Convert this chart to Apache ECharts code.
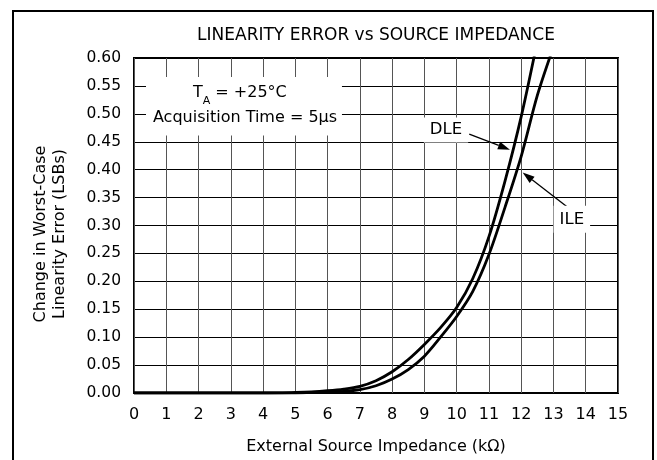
<!DOCTYPE html>
<html>
<head>
<meta charset="utf-8">
<script src="https://cdn.jsdelivr.net/npm/echarts@6/dist/echarts.min.js"></script>
<style>
  html, body { margin: 0; padding: 0; background: #fff; }
  #main { width: 657px; height: 460px; }
</style>
</head>
<body>
<div id="main"></div>
<script>
  // valeurs : [impedance kOhm, erreur LSB]
  var dleData = [[0, 0], [1, 0], [2, 0], [3, 0], [4, 0], [5, 0.001], [5.5, 0.002], [6, 0.004],
    [6.5, 0.007], [7, 0.012], [7.5, 0.022], [8, 0.038], [8.5, 0.060], [9, 0.087], [9.5, 0.117],
    [10, 0.153], [10.5, 0.205], [11, 0.28], [11.5, 0.38], [12, 0.495], [12.5, 0.63]];
  var ileData = [[0, 0], [1, 0], [2, 0], [3, 0], [4, 0], [5, 0], [5.5, 0.001], [6, 0.002],
    [6.5, 0.003], [7, 0.006], [7.5, 0.013], [8, 0.025], [8.5, 0.042], [9, 0.066], [9.5, 0.100],
    [10, 0.137], [10.5, 0.182], [11, 0.248], [11.5, 0.333], [12, 0.424], [12.5, 0.533], [13, 0.62]];
  var seriesNames = ['DLE', 'ILE'];

  var FONT = 'DejaVu Sans';

  var myChart = echarts.init(document.getElementById('main'));

  var options = {
    animation: false,
    grid: {
      left: 134, right: 39, top: 58, bottom: 66,
      show: true, borderColor: '#000', borderWidth: 2, backgroundColor: 'transparent'
    },
    xAxis: {
      type: 'value', min: 0, max: 15, interval: 1,
      axisLine: { show: false }, axisTick: { show: false },
      axisLabel: { margin: 14, fontFamily: FONT, fontSize: 16, color: '#000' },
      splitLine: { lineStyle: { color: '#555', width: 1 } },
      name: 'External Source Impedance (kΩ)', nameLocation: 'middle', nameGap: 46,
      nameTextStyle: { fontFamily: FONT, fontSize: 16, color: '#000' }
    },
    yAxis: {
      type: 'value', min: 0, max: 0.6, interval: 0.05,
      axisLine: { show: false }, axisTick: { show: false },
      axisLabel: {
        margin: 13, fontFamily: FONT, fontSize: 15.5, color: '#000',
        formatter: function (v) { return v.toFixed(2); }
      },
      splitLine: { lineStyle: { color: '#000', width: 1 } }
    },
    series: [
      {
        name: seriesNames[0], type: 'line', data: dleData, symbol: 'none',
        smooth: 0.3, clip: true,
        lineStyle: { color: '#000', width: 2.8 }
      },
      {
        name: seriesNames[1], type: 'line', data: ileData, symbol: 'none',
        smooth: 0.3, clip: true,
        lineStyle: { color: '#000', width: 2.8 }
      }
    ]
  };
  myChart.setOption(options);

  // annotations placees en coordonnees de donnees
  function px(p) { return myChart.convertToPixel({ gridIndex: 0 }, p); }

  function arrow(from, to, id) {
    var a = px(from), b = px(to);
    var dx = b[0] - a[0], dy = b[1] - a[1];
    var len = Math.sqrt(dx * dx + dy * dy);
    var ux = dx / len, uy = dy / len, L = 12, W = 4;
    var bx = b[0] - ux * L, by = b[1] - uy * L;
    return [
      { type: 'line', id: id + 'l', z: 50, shape: { x1: a[0], y1: a[1], x2: bx, y2: by },
        style: { stroke: '#000', lineWidth: 1.3 } },
      { type: 'polygon', id: id + 'h', z: 50,
        shape: { points: [[b[0], b[1]], [bx - uy * W, by + ux * W], [bx + uy * W, by - ux * W]] },
        style: { fill: '#000' } }
    ];
  }

  var boxA = px([0.372, 0.566]), boxB = px([6.445, 0.461]);
  var cond1 = px([3.28, 0.5375]), cond2 = px([3.44, 0.4929]);
  var dleTxt = px([9.67, 0.471]), ileTxt = px([13.57, 0.311]);
  var mid = px([7.5, 0.6]);

  var graphics = [
    { type: 'rect', id: 'frame', z: 60, shape: { x: 13, y: 11, width: 640, height: 470 },
      style: { fill: 'transparent', stroke: '#000', lineWidth: 2 } },
    { type: 'text', id: 'title', z: 60, x: mid[0], y: 36,
      style: { text: 'LINEARITY ERROR vs SOURCE IMPEDANCE', font: '17px "' + FONT + '"',
        fill: '#000', align: 'center', verticalAlign: 'middle' } },
    { type: 'text', id: 'yname', z: 60, x: 50, y: 234, rotation: Math.PI / 2,
      style: { text: 'Change in Worst-Case\nLinearity Error (LSBs)', font: '16px "' + FONT + '"',
        lineHeight: 19, fill: '#000', align: 'center', verticalAlign: 'middle' } },
    { type: 'rect', id: 'condbox', z: 40,
      shape: { x: boxA[0], y: boxA[1], width: boxB[0] - boxA[0], height: boxB[1] - boxA[1] },
      style: { fill: '#fff' } },
    { type: 'text', id: 'cond1', z: 60, x: cond1[0], y: cond1[1],
      style: {
        text: '{t|T}{s|A}{t| = +25°C}', align: 'center', verticalAlign: 'middle',
        rich: {
          t: { fontFamily: FONT, fontSize: 16, fill: '#000' },
          s: { fontFamily: FONT, fontSize: 11, fill: '#000', padding: [16, 0, 0, 0] }
        }
      } },
    { type: 'text', id: 'cond2', z: 60, x: cond2[0], y: cond2[1],
      style: { text: 'Acquisition Time = 5μs', font: '16px "' + FONT + '"', fill: '#000',
        align: 'center', verticalAlign: 'middle' } },
    { type: 'text', id: 'dle', z: 60, x: dleTxt[0], y: dleTxt[1],
      style: { text: seriesNames[0], font: '16.5px "' + FONT + '"', fill: '#000',
        align: 'center', verticalAlign: 'middle', backgroundColor: '#fff', padding: [4, 6] } },
    { type: 'text', id: 'ile', z: 60, x: ileTxt[0], y: ileTxt[1],
      style: { text: seriesNames[1], font: '16.5px "' + FONT + '"', fill: '#000',
        align: 'center', verticalAlign: 'middle', backgroundColor: '#fff', padding: [5, 6] } }
  ];
  graphics = graphics.concat(arrow([10.39, 0.4637], [11.65, 0.4357], 'a1'));
  graphics = graphics.concat(arrow([13.46, 0.3316], [12.045, 0.395], 'a2'));

  myChart.setOption({ graphic: graphics });
</script>
</body>
</html>
